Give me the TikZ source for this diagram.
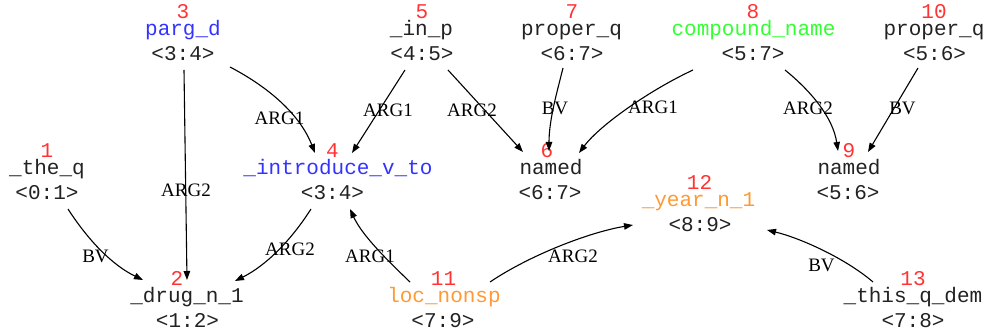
\documentclass[tikz,border=0pt]{standalone}
\usepackage{fontspec}
\setmainfont{Liberation Serif}
\newfontfamily\monof{Liberation Mono}
\usetikzlibrary{arrows.meta}
\definecolor{numred}{HTML}{FF3333}
\definecolor{predblue}{HTML}{3333FF}
\definecolor{predgreen}{HTML}{33FF33}
\definecolor{predorange}{HTML}{FF9933}
\definecolor{txtgray}{HTML}{222222}
\begin{document}
\begin{tikzpicture}[x=1pt,y=-1pt,
  txt/.style={anchor=base,inner sep=0pt,font=\monof\fontsize{21}{25}\selectfont,text=txtgray},
  num/.style={anchor=base,inner sep=0pt,font=\monof\fontsize{21}{25}\selectfont,text=numred},
  elab/.style={inner sep=0pt,font=\fontsize{19}{22}\selectfont,text=black},
  edge/.style={line width=1.1pt,draw=black,-{Triangle[length=9pt,width=6.5pt]}}]
\useasboundingbox (0,0) rectangle (988,336);
% nodes
\node[num] (N1) at (47,158) {1};
\node[txt] (L1) at (47,175) {\_the\_q};
\node[txt] (S1) at (47,200) {<0:1>};
\node[num] (N2) at (177,286) {2};
\node[txt] (L2) at (187,303) {\_drug\_n\_1};
\node[txt] (S2) at (187.5,328) {<1:2>};
\node[num] (N3) at (183,19) {3};
\node[txt,text=predblue] (L3) at (183,36) {parg\_d};
\node[txt] (S3) at (183,61) {<3:4>};
\node[num] (N4) at (332.5,158) {4};
\node[txt,text=predblue] (L4) at (338,175) {\_introduce\_v\_to};
\node[txt] (S4) at (332.5,200) {<3:4>};
\node[num] (N5) at (422,19) {5};
\node[txt] (L5) at (421.5,36) {\_in\_p};
\node[txt] (S5) at (422,61) {<4:5>};
\node[num] (N6) at (547,158) {6};
\node[txt] (L6) at (551,175) {named};
\node[txt] (S6) at (550,200) {<6:7>};
\node[num] (N7) at (572,19) {7};
\node[txt] (L7) at (571.5,36) {proper\_q};
\node[txt] (S7) at (572,61) {<6:7>};
\node[num] (N8) at (753,19) {8};
\node[txt,text=predgreen] (L8) at (753.5,36) {compound\_name};
\node[txt] (S8) at (753,61) {<5:7>};
\node[num] (N9) at (849,158) {9};
\node[txt] (L9) at (849,175) {named};
\node[txt] (S9) at (848,200) {<5:6>};
\node[num] (N10) at (934,19) {10};
\node[txt] (L10) at (934,36) {proper\_q};
\node[txt] (S10) at (934.5,61) {<5:6>};
\node[num] (N11) at (443.5,286) {11};
\node[txt,text=predorange] (L11) at (444,303) {loc\_nonsp};
\node[txt] (S11) at (443,328) {<7:9>};
\node[num] (N12) at (699.5,190) {12};
\node[txt,text=predorange] (L12) at (698.5,207) {\_year\_n\_1};
\node[txt] (S12) at (700,232) {<8:9>};
\node[num] (N13) at (913,286) {13};
\node[txt] (L13) at (913,303) {\_this\_q\_dem};
\node[txt] (S13) at (913,328) {<7:8>};
% edges
\draw[edge] ([shift={(47,31)}]L3.base) .. controls (270,88) and (300,115) .. ([shift={(-23,-22)}]L4.base);
\draw[edge] ([shift={(1,34)}]L3.base) -- ([shift={(0,-23)}]L2.base);
\draw[edge] ([shift={(-16.5,34)}]L5.base) -- ([shift={(14,-22)}]L4.base);
\draw[edge] ([shift={(26.5,34)}]L5.base) -- ([shift={(-28,-23)}]L6.base);
\draw[edge] ([shift={(-8.5,32)}]L7.base) .. controls (557,92) and (549,120) .. ([shift={(-2,-24)}]L6.base);
\draw[edge] ([shift={(-60.5,34)}]L8.base) .. controls (650,90) and (600,125) .. ([shift={(28,-22)}]L6.base);
\draw[edge] ([shift={(31.5,34)}]L8.base) .. controls (812,92) and (833,118) .. ([shift={(-11,-24)}]L9.base);
\draw[edge] ([shift={(-16,32)}]L10.base) -- ([shift={(19,-23)}]L9.base);
\draw[edge] ([shift={(21,34)}]L1.base) .. controls (88,240) and (112,265) .. ([shift={(-44,-23)}]L2.base);
\draw[edge] ([shift={(-27,34)}]L4.base) .. controls (290,242) and (265,266) .. ([shift={(48,-22)}]L2.base);
\draw[edge] ([shift={(-34,-21)}]L11.base) .. controls (385,258) and (362,235) .. ([shift={(12,34)}]L4.base);
\draw[edge] ([shift={(46,-21)}]L11.base) .. controls (530,255) and (590,232) .. ([shift={(-65.5,18)}]L12.base);
\draw[edge] ([shift={(-40,-21)}]L13.base) .. controls (845,258) and (800,238) .. ([shift={(68.5,23)}]L12.base);
% edge labels
\node[elab] (e34) at (279.5,118.5) {ARG1};
\node[elab] (e32) at (186,190) {ARG2};
\node[elab] (e54) at (388,110) {ARG1};
\node[elab] (e56) at (472,110) {ARG2};
\node[elab] (e76) at (555,108.5) {BV};
\node[elab] (e86) at (653,107) {ARG1};
\node[elab] (e89) at (808,108) {ARG2};
\node[elab] (e109) at (902.5,108) {BV};
\node[elab] (e12) at (95.5,256) {BV};
\node[elab] (e42) at (290,249.5) {ARG2};
\node[elab] (e114) at (370,256.5) {ARG1};
\node[elab] (e1112) at (573,256.5) {ARG2};
\node[elab] (e1312) at (821.5,265) {BV};
\end{tikzpicture}
\end{document}
